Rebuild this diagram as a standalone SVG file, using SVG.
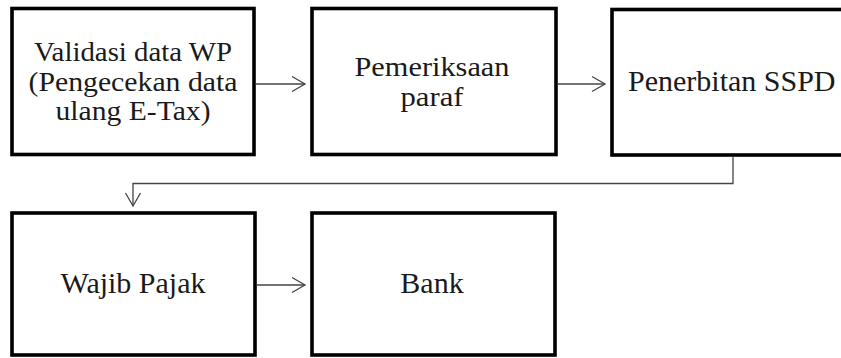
<svg xmlns="http://www.w3.org/2000/svg" width="841" height="358" viewBox="0 0 841 358">
  <style>
    .box { fill: #ffffff; stroke: #000000; stroke-width: 3.6; }
    .flow { fill: none; stroke: #444444; stroke-width: 1.3; }
  </style>
  <defs>
    <marker id="chevron" markerWidth="16" markerHeight="18" refX="14" refY="9" orient="auto" markerUnits="userSpaceOnUse">
      <path d="M1,1.5 L14,9 L1,16.5" fill="none" stroke="#444444" stroke-width="1.3"/>
    </marker>
  </defs>

  <rect width="841" height="358" fill="#ffffff"/>

  <!-- process steps -->
  <g font-family="'Liberation Serif', 'Times New Roman', serif" fill="#1a1a1a" text-anchor="middle">
    <g id="validasi">
      <rect class="box" x="12" y="8.5" width="242" height="146"/>
      <text x="133" y="61" font-size="26.5" textLength="198" lengthAdjust="spacingAndGlyphs">Validasi data WP</text>
      <text x="133" y="90.5" font-size="26.5" textLength="209" lengthAdjust="spacingAndGlyphs">(Pengecekan data</text>
      <text x="133" y="120" font-size="26.5" textLength="155" lengthAdjust="spacingAndGlyphs">ulang E-Tax)</text>
    </g>

    <g id="pemeriksaan">
      <rect class="box" x="312" y="8.5" width="244" height="146"/>
      <text x="432" y="76" font-size="26.5" textLength="155" lengthAdjust="spacingAndGlyphs">Pemeriksaan</text>
      <text x="432" y="105.5" font-size="26.5" textLength="63" lengthAdjust="spacingAndGlyphs">paraf</text>
    </g>

    <g id="penerbitan">
      <rect class="box" x="612" y="9.5" width="250" height="145.5"/>
      <text x="628" y="91" font-size="30" text-anchor="start">Penerbitan SSPD</text>
    </g>

    <g id="wajib-pajak">
      <rect class="box" x="12" y="213" width="243" height="142"/>
      <text x="133" y="293" font-size="30">Wajib Pajak</text>
    </g>

    <g id="bank">
      <rect class="box" x="312" y="213" width="243" height="142"/>
      <text x="432" y="293" font-size="30">Bank</text>
    </g>
  </g>

  <!-- connectors -->
  <g id="connectors">
    <line class="flow" x1="256" y1="84" x2="305" y2="84" marker-end="url(#chevron)"/>
    <line class="flow" x1="558" y1="84" x2="605" y2="84" marker-end="url(#chevron)"/>
    <polyline class="flow" points="733,157 733,183.5 133,183.5 133,206" marker-end="url(#chevron)"/>
    <line class="flow" x1="257" y1="285" x2="305" y2="285" marker-end="url(#chevron)"/>
  </g>
</svg>
